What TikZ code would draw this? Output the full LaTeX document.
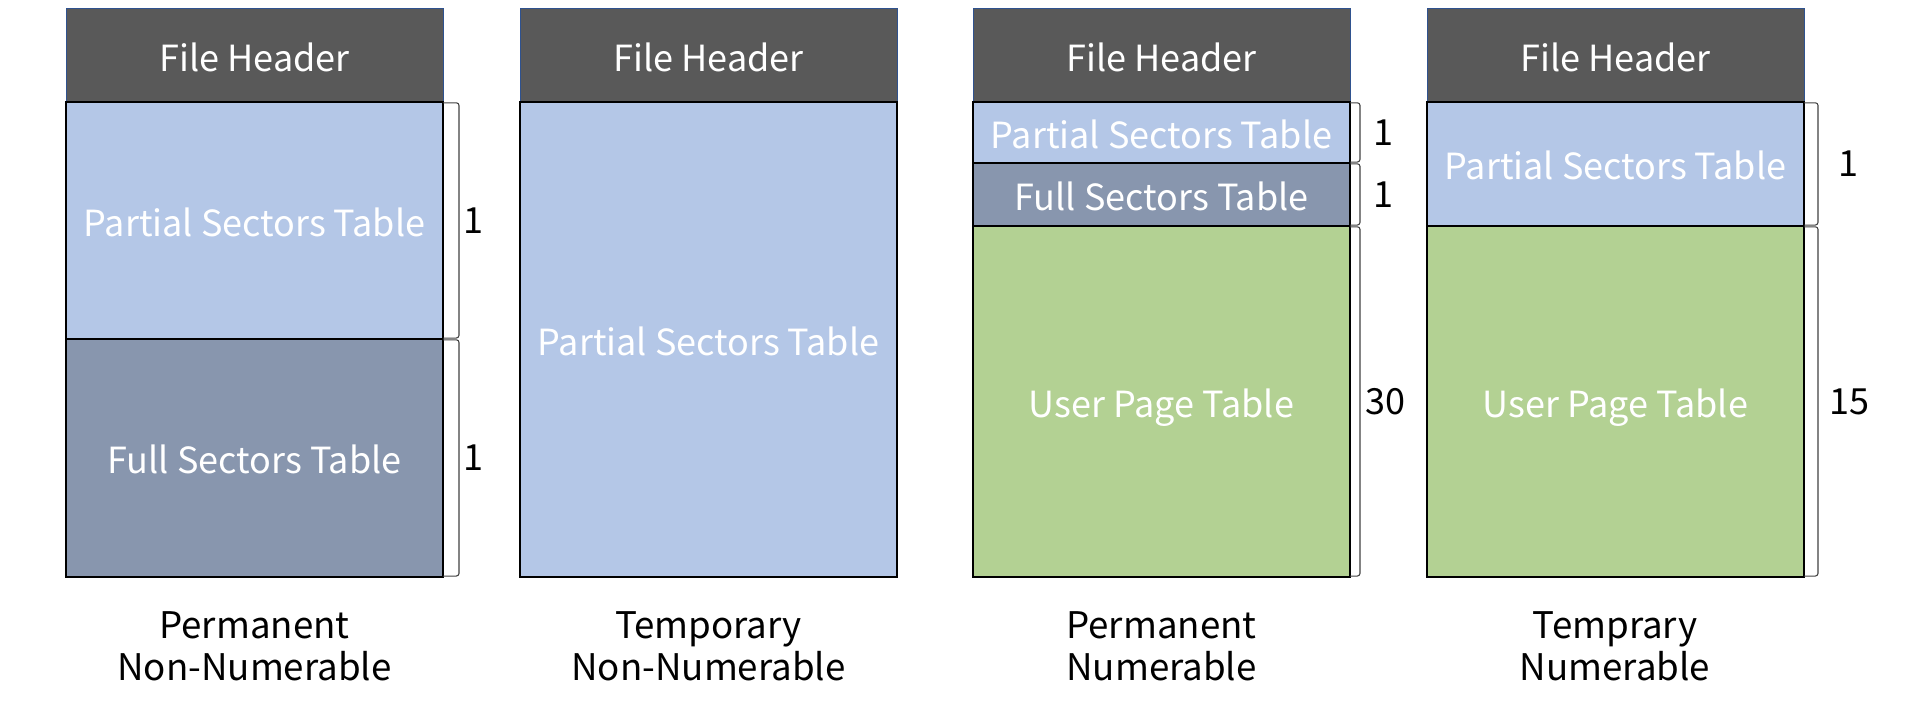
\documentclass[tikz,border=0pt]{standalone}
\usepackage{fontspec}
\setmainfont{Noto Sans CJK KR}
\usetikzlibrary{calc}
\definecolor{hdr}{HTML}{595959}
\definecolor{hdrline}{HTML}{2F528F}
\definecolor{pst}{HTML}{B4C7E7}
\definecolor{fst}{HTML}{8896AE}
\definecolor{upt}{HTML}{B3D193}
\definecolor{brkc}{HTML}{404040}
\newcommand\brk[2]{\draw[brk] ([yshift=-0.6pt]#1.north east) -| ($(#1.south east)+(#2,-1)$) -- ([yshift=0.6pt]#1.south east);}
\begin{document}
\begin{tikzpicture}[x=0.75pt,y=-0.75pt,
  intext/.style={text=white, font=\fontsize{27}{30}\selectfont, text height=24pt, text depth=0.4pt},
  hdrbox/.style={draw=hdrline, line width=0.75pt, fill=hdr, intext, anchor=north west, inner sep=0pt, outer sep=0pt, minimum width=377*0.75pt, minimum height=93*0.75pt},
  tbl/.style={draw=black, line width=1.6pt, intext, anchor=north west, inner sep=0pt, outer sep=0pt, minimum width=377*0.75pt, minimum height=#1*0.75pt},
  brk/.style={draw=brkc, line width=0.8pt, rounded corners=2pt},
  num/.style={text=black, font=\fontsize{27}{30}\selectfont, inner sep=0pt},
  lbl/.style={text=black, align=center, font=\fontsize{27.5}{31.5}\selectfont, inner sep=0pt}]
\useasboundingbox (0,0) rectangle (1913,702);
% column 1
\node[hdrbox] (h1) at (66,9) {File Header};
\node[tbl=237, fill=pst] (p1) at (66,102) {Partial Sectors Table};
\node[tbl=238, fill=fst] (f1) at (66,339) {Full Sectors Table};
\brk{p1}{16}
\brk{f1}{16}
\node[num] (n1) at ($(p1.east)+(30,0)$) {1};
\node[num] (n2) at ($(f1.east)+(30,0)$) {1};
\node[lbl] (l1) at (254.5,646) {Permanent\\Non-Numerable};
% column 2
\node[hdrbox] (h2) at (520,9) {File Header};
\node[tbl=475, fill=pst] (p2) at (520,102) {Partial Sectors Table};
\node[lbl] (l2) at (708.5,646) {Temporary\\Non-Numerable};
% column 3
\node[hdrbox] (h3) at (973,9) {File Header};
\node[tbl=61, fill=pst] (p3) at (973,102) {Partial Sectors Table};
\node[tbl=63, fill=fst] (f3) at (973,163) {Full Sectors Table};
\node[tbl=351, fill=upt] (u3) at (973,226) {User Page Table};
\brk{p3}{10}
\brk{f3}{10}
\brk{u3}{10}
\node[num] (n3) at ($(p3.east)+(33,0)$) {1};
\node[num] (n4) at ($(f3.east)+(33,0)$) {1};
\node[num] (n5) at ($(u3.east)+(35,0)$) {30};
\node[lbl] (l3) at (1161.5,646) {Permanent\\Numerable};
% column 4
\node[hdrbox] (h4) at (1427,9) {File Header};
\node[tbl=124, fill=pst] (p4) at (1427,102) {Partial Sectors Table};
\node[tbl=351, fill=upt] (u4) at (1427,226) {User Page Table};
\brk{p4}{14}
\brk{u4}{14}
\node[num] (n6) at ($(p4.east)+(44,0)$) {1};
\node[num] (n7) at ($(u4.east)+(45,0)$) {15};
\node[lbl] (l4) at (1615,646) {Temprary\\Numerable};
\end{tikzpicture}
\end{document}
